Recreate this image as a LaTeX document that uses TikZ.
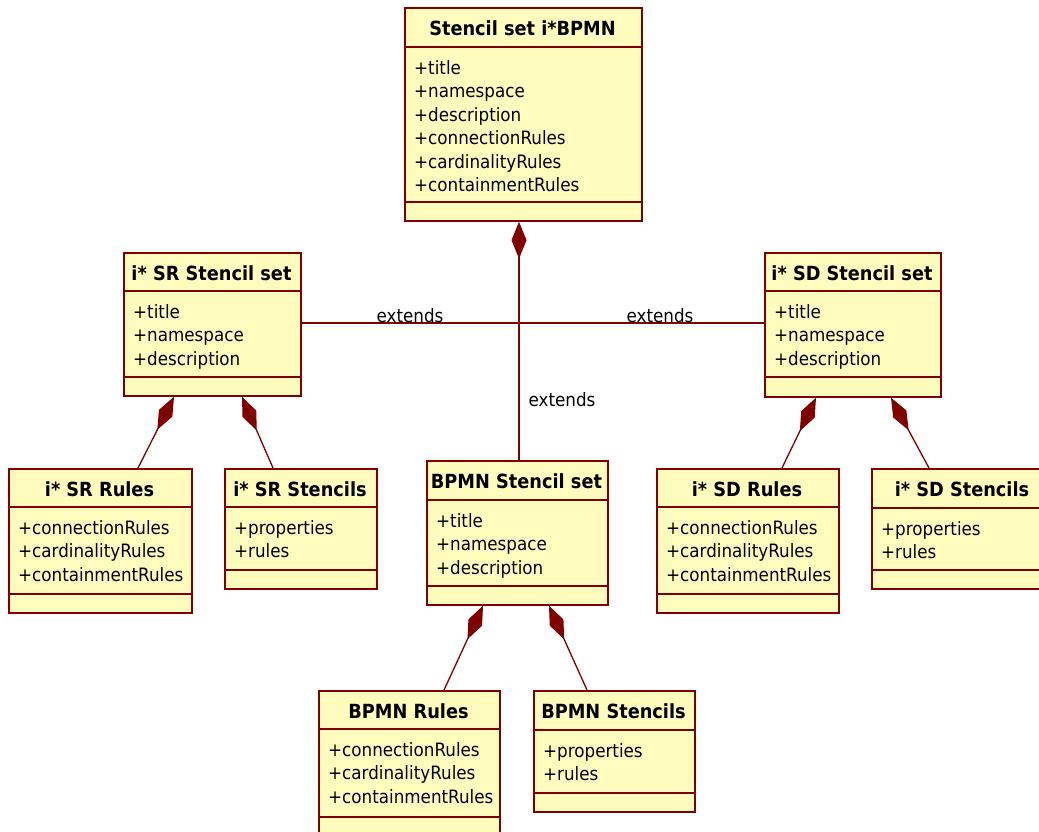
\documentclass[tikz,border=0pt]{standalone}
\usepackage{fontspec}
\setmainfont{DejaVu Sans}
\newfontfamily\umlfont[FakeStretch=0.91]{DejaVu Sans}
\usetikzlibrary{arrows.meta}
\definecolor{umlred}{RGB}{128,0,0}
\definecolor{umlfill}{RGB}{255,252,190}
\newcommand\umlattrfont{\umlfont\fontsize{18.4}{22}\selectfont}
\newcommand\umltitlefont{\umlfont\fontsize{19.5}{23}\selectfont\bfseries}
% name, left, top, right, sep1, sep2, bottom, title, attributes
\newcommand\umlclass[9]{%
  \node[classbox, minimum width={#4-#2}, minimum height={#7-#3}] (#1) at (#2,#3) {};
  \draw[sepline] (#2,#5) -- ({#4+2},#5);
  \draw[sepline] (#2,#6) -- ({#4+2},#6);
  \node[titletext] (#1-t) at ({(#2+#4)/2},{#3+28}) {#8};
  \foreach \a [count=\i from 0] in {#9}
    \node[attrtext] (#1-a\i) at ({#2+10},{#5+27+23.5*\i}) {\a};
}
\tikzset{
  classbox/.style={draw=umlred, fill=umlfill, line width=1.7pt, inner sep=0pt, anchor=north west},
  sepline/.style={draw=umlred, line width=1.7pt},
  titletext/.style={font=\umltitlefont, anchor=base, inner sep=0pt},
  attrtext/.style={font=\umlattrfont, anchor=base west, inner sep=0pt},
  conn/.style={draw=umlred, line width=1.3pt},
  comp/.style={conn, -{Diamond[length=37pt, width=15pt, fill=umlred]}},
  lbl/.style={font=\umlattrfont, inner sep=0pt, anchor=base}
}
\begin{document}
\begin{tikzpicture}[x=1pt,y=-1pt]
\useasboundingbox (0,0) rectangle (1039,831);
\clip (0,0) rectangle (1039,831);

\umlclass{top}{404}{7}{641}{47}{202}{220}{Stencil set i*BPMN}%
  {+title,+namespace,+description,+connectionRules,+cardinalityRules,+containmentRules}
\umlclass{sr}{123}{252}{300}{291}{377}{395}{i* SR Stencil set}%
  {+title,+namespace,+description}
\umlclass{sd}{764}{252}{940}{291}{377}{396}{i* SD Stencil set}%
  {+title,+namespace,+description}
\umlclass{bpmnset}{426}{460}{607}{500}{586}{604}{BPMN Stencil set}%
  {+title,+namespace,+description}
\umlclass{srrules}{8}{468}{191}{507}{594}{612}{i* SR Rules}%
  {+connectionRules,+cardinalityRules,+containmentRules}
\umlclass{srstencils}{224}{468}{376}{507}{570}{588}{i* SR Stencils}%
  {+properties,+rules}
\umlclass{sdrules}{656}{468}{838}{507}{594}{612}{i* SD Rules}%
  {+connectionRules,+cardinalityRules,+containmentRules}
\umlclass{sdstencils}{871}{468}{1053}{508}{570}{588}{i* SD Stencils}%
  {+properties,+rules}
\umlclass{bpmnrules}{318}{690}{499}{729}{817}{835}{BPMN Rules}%
  {+connectionRules,+cardinalityRules,+containmentRules}
\umlclass{bpmnstencils}{533}{690}{694}{730}{793}{811}{BPMN Stencils}%
  {+properties,+rules}

% extends connectors
\draw[conn] ([yshift=-71pt]sr.north east) -- ([yshift=-71pt]sd.north west);
\draw[comp] ([xshift=93pt]bpmnset.north west) -- ([xshift=115pt]top.south west);
\node[lbl] (ext1) at (410,322) {extends};
\node[lbl] (ext2) at (660,322) {extends};
\node[lbl] (ext3) at (562,406) {extends};

% compositions
\draw[comp] ([xshift=130pt]srrules.north west) -- ([xshift=51pt]sr.south west);
\draw[comp] ([xshift=49pt]srstencils.north west) -- ([xshift=119pt]sr.south west);
\draw[comp] ([xshift=126pt]sdrules.north west) -- ([xshift=52pt]sd.south west);
\draw[comp] ([xshift=58pt]sdstencils.north west) -- ([xshift=127pt]sd.south west);
\draw[comp] ([xshift=126pt]bpmnrules.north west) -- ([xshift=57pt]bpmnset.south west);
\draw[comp] ([xshift=54pt]bpmnstencils.north west) -- ([xshift=123pt]bpmnset.south west);
\end{tikzpicture}
\end{document}
